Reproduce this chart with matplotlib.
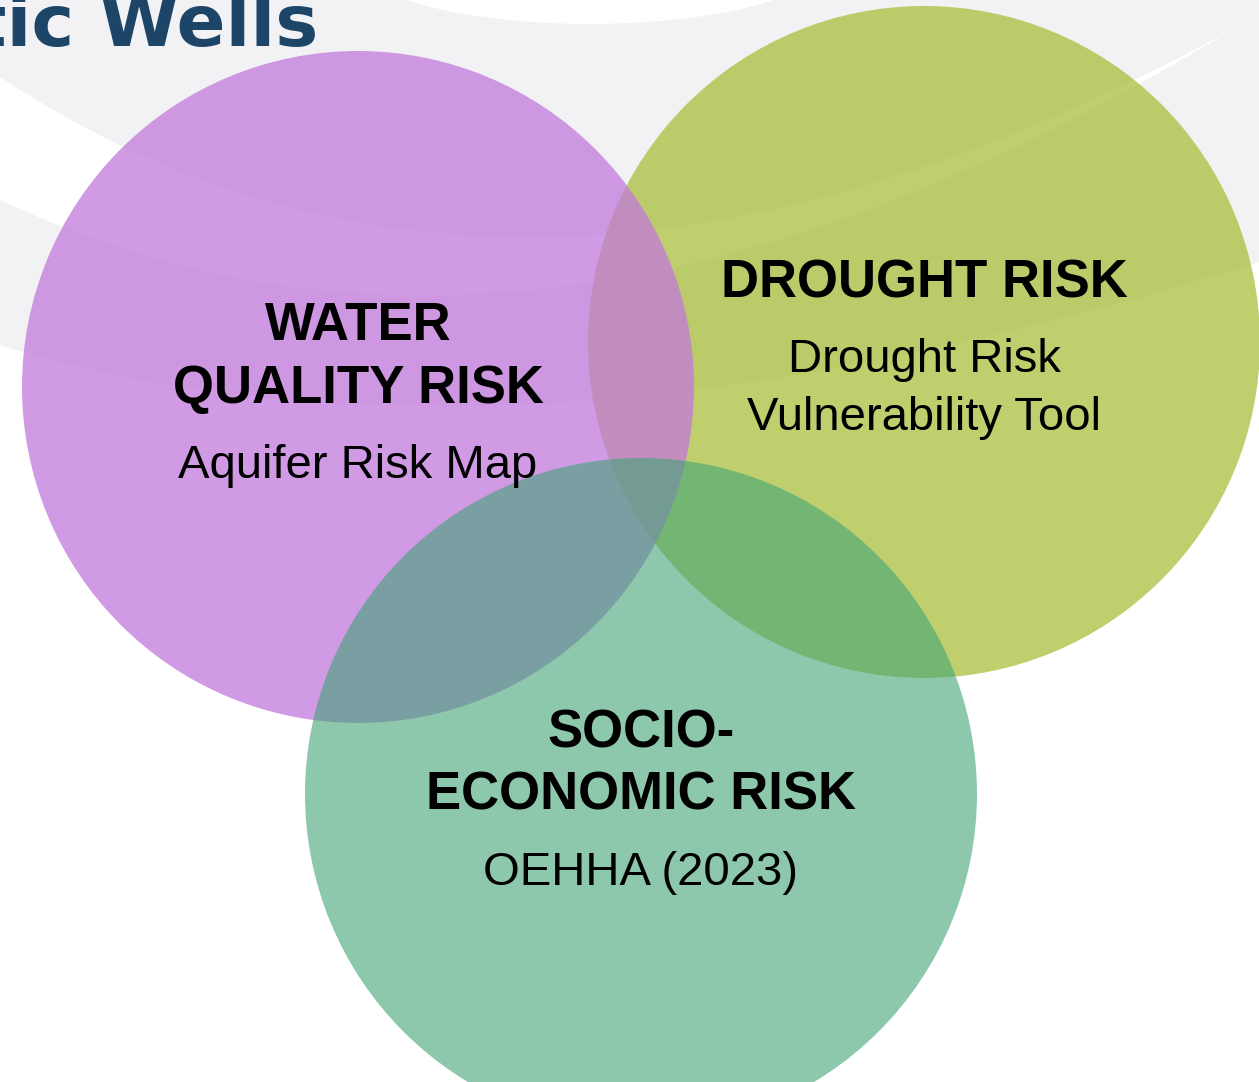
import matplotlib.pyplot as plt
from matplotlib.patches import Circle, Ellipse, PathPatch
from matplotlib.path import Path

# venn labels
titles = ["WATER\nQUALITY RISK", "DROUGHT RISK", "SOCIO-\nECONOMIC RISK"]
subtitles = ["Aquifer Risk Map", "Drought Risk\nVulnerability Tool", "OEHHA (2023)"]
colors = ["#c279db", "#abbf3c", "#41a477"]
alphas = [0.75, 0.75, 0.6]
header = "tic Wells"

W, H = 1259, 1082
fig = plt.figure(figsize=(W / 100, H / 100), dpi=100)
ax = fig.add_axes([0, 0, 1, 1])
ax.set_xlim(0, W)
ax.set_ylim(H, 0)
ax.axis('off')
fig.patch.set_facecolor('white')

# background swooshes (slide template)
bg = "#f2f2f4"
gray = Path([(0, 0), (W, 0), (W, 262), (500, 500), (0, 345), (0, 0)],
            [Path.MOVETO, Path.LINETO, Path.LINETO, Path.CURVE3, Path.CURVE3, Path.CLOSEPOLY])
ax.add_patch(PathPatch(gray, facecolor=bg, edgecolor='none', zorder=0))
band = Path([(0, 77), (520, 420), (1235, 28), (540, 455), (0, 200), (0, 77)],
            [Path.MOVETO, Path.CURVE3, Path.CURVE3, Path.CURVE3, Path.CURVE3, Path.CLOSEPOLY])
ax.add_patch(PathPatch(band, facecolor='white', edgecolor='none', zorder=1))
ax.add_patch(Ellipse((590, -40), 470, 128, facecolor='white', edgecolor='none', zorder=1))

# circles: drought first, then water quality, then socio-economic on top
centers = [(358, 387), (924, 342), (641, 794)]
radius = 336
order = [1, 0, 2]
for z, i in enumerate(order):
    ax.add_patch(Circle(centers[i], radius, facecolor=colors[i], alpha=alphas[i],
                        edgecolor='none', zorder=2 + z))

font = 'Liberation Sans'
bold_size = 38
reg_size = 34
line_bold = 63
line_reg = 58

# first baseline of the bold block for each circle
first_base = [340, 297, 747]
for i in range(3):
    cx = centers[i][0]
    y = first_base[i]
    for line in titles[i].split("\n"):
        ax.text(cx, y, line, ha='center', va='baseline', fontsize=bold_size,
                fontweight='bold', family=font, color='black', zorder=10)
        y += line_bold
    y += 75 - line_bold
    for line in subtitles[i].split("\n"):
        ax.text(cx, y, line, ha='center', va='baseline', fontsize=reg_size,
                family=font, color='black', zorder=10)
        y += line_reg

# cut-off slide title, as in the source slide
ax.text(318, 46, header, ha='right', va='baseline', fontsize=52, fontweight='bold',
        family='DejaVu Sans', color='#1d4568', zorder=10)

fig.savefig('out.png', dpi=100)
